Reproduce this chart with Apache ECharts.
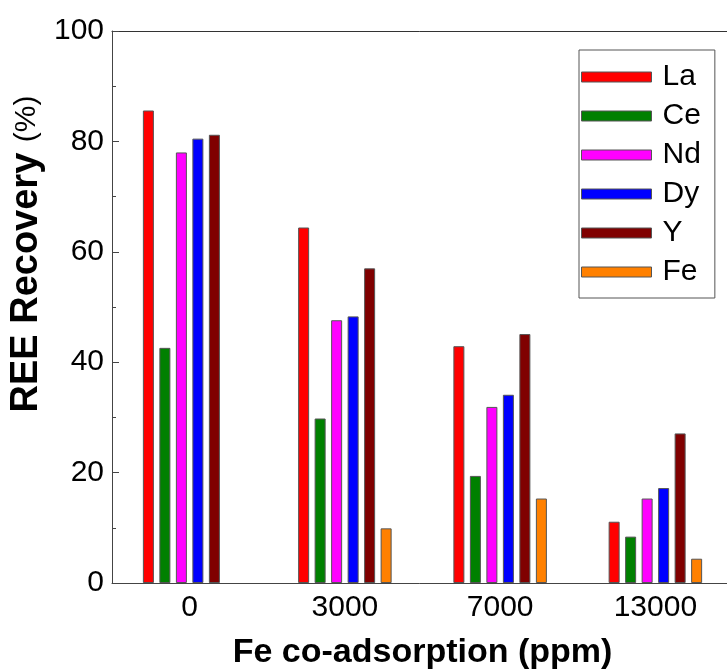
<!DOCTYPE html>
<html><head><meta charset="utf-8">
<script src="https://cdn.jsdelivr.net/npm/echarts@6/dist/echarts.min.js"></script>
<style>html,body{margin:0;padding:0;background:#fff}#c{width:727px;height:672px}</style>
</head><body><div id="c"></div>
<script>
const categories = ['0', '3000', '7000', '13000'];
const seriesNames = ['La', 'Ce', 'Nd', 'Dy', 'Y', 'Fe'];
const La = [85.6, 64.4, 42.9, 11.1];
const Ce = [42.6, 29.8, 19.4, 8.4];
const Nd = [78.0, 47.6, 31.9, 15.3];
const Dy = [80.5, 48.3, 34.1, 17.2];
const Y  = [81.2, 57.0, 45.1, 27.1];
const Fe = [null, 9.9, 15.3, 4.4];
const colors = ['#ff0000', '#008000', '#ff00ff', '#0000ff', '#800000', '#ff8000'];
const values = [La, Ce, Nd, Dy, Y, Fe];

const chart = echarts.init(document.getElementById('c'), null, {renderer: 'canvas'});
const font = 'Arial, "Liberation Sans", sans-serif';
chart.setOption({
  animation: false,
  grid: {left: 112, right: -6, top: 31, bottom: 89, outerBoundsMode: 'none', containLabel: false, show: false},
  legend: {
    show: true, orient: 'vertical', left: 579, top: 50,
    padding: [12, 14, 11, 2],
    borderColor: '#555', borderWidth: 1, backgroundColor: '#fff',
    itemWidth: 70, itemHeight: 10, itemGap: 9,
    icon: 'rect',
    itemStyle: {borderColor: '#555', borderWidth: 1},
    textStyle: {fontFamily: font, fontSize: 30, lineHeight: 30, color: '#000', padding: [0, 0, 0, 6]},
    data: seriesNames
  },
  xAxis: [{
    type: 'category', data: categories,
    name: 'Fe co-adsorption (ppm)', nameLocation: 'middle', nameGap: 53, nameMoveOverlap: false,
    nameTextStyle: {fontFamily: font, fontSize: 34, fontWeight: 'bold', color: '#000'},
    axisLine: {lineStyle: {color: '#444', width: 1}},
    axisTick: {show: false},
    axisLabel: {fontFamily: font, fontSize: 30, color: '#000', margin: 10}
  }, {
    type: 'category', data: categories, position: 'top',
    axisLine: {show: true, lineStyle: {color: '#333', width: 1}},
    axisTick: {show: false}, axisLabel: {show: false}, splitLine: {show: false}
  }],
  yAxis: {
    type: 'value', min: 0, max: 100, interval: 20,
    name: '{b|REE Recovery }{r|(%)}', nameLocation: 'middle', nameGap: 66, nameRotate: 90,
    nameMoveOverlap: false,
    nameTextStyle: {
      fontFamily: font, color: '#000', padding: [0, 0, 0, 106],
      rich: {
        b: {fontFamily: font, fontSize: 38, fontWeight: 'bold', color: '#000'},
        r: {fontFamily: font, fontSize: 30, fontWeight: 'normal', color: '#000'}
      }
    },
    axisLine: {show: true, lineStyle: {color: '#444', width: 1}},
    axisTick: {show: true, inside: true, length: 7, lineStyle: {color: '#444'}},
    minorTick: {show: true, splitNumber: 2, length: 4, lineStyle: {color: '#444'}},
    splitLine: {show: false},
    axisLabel: {fontFamily: font, fontSize: 30, color: '#000', margin: 8}
  },
  series: seriesNames.map((n, i) => ({
    name: n, type: 'bar', data: values[i], xAxisIndex: 0,
    barWidth: 11, barGap: '50%',
    itemStyle: {color: colors[i], borderColor: '#555', borderWidth: 1}
  }))
});
</script></body></html>
